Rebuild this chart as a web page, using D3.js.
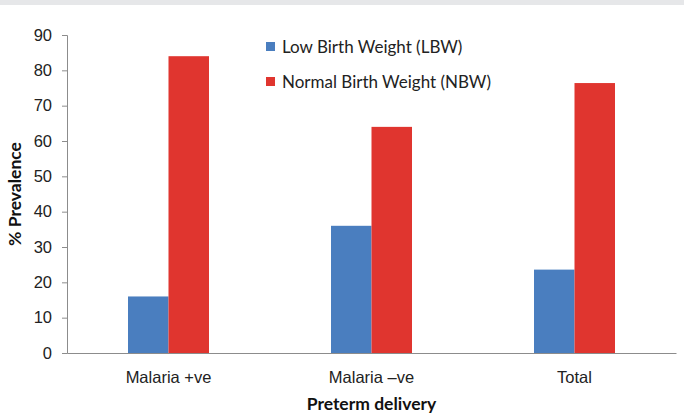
<!DOCTYPE html>
<html>
<head>
<meta charset="utf-8">
<script src="https://cdn.jsdelivr.net/npm/d3@7"></script>
<style>
  body { margin: 0; background: #fff; }
  svg { display: block; font-family: Lato, "Open Sans", sans-serif; }
</style>
</head>
<body>
<div id="chart"></div>
<script>
// data
const categories = ['Malaria +ve', 'Malaria \u2013ve', 'Total'];
const seriesNames = ['Low Birth Weight (LBW)', 'Normal Birth Weight (NBW)'];
const lbw = [16, 36, 23.6];
const nbw = [84, 64, 76.4];
const yTicks = [0, 10, 20, 30, 40, 50, 60, 70, 80, 90];
const colors = ['#4a7ebf', '#e0352f'];

const width = 684, height = 415;
const margin = { top: 35, right: 8, bottom: 62, left: 67 };

const svg = d3.select('#chart').append('svg')
    .attr('width', width)
    .attr('height', height);

// grey strip at the top of the figure
svg.append('rect')
    .attr('x', 0).attr('y', 0)
    .attr('width', width).attr('height', 5)
    .attr('fill', '#e6e7e9');

const x = d3.scaleBand()
    .domain(categories)
    .range([margin.left, width - margin.right]);

const x1 = d3.scaleBand()
    .domain(seriesNames)
    .range([0, 81]);

const y = d3.scaleLinear()
    .domain([0, 90])
    .range([height - margin.bottom, margin.top]);

const rows = categories.map((c, i) => ({ cat: c, vals: [lbw[i], nbw[i]] }));

const groups = svg.append('g').selectAll('g')
    .data(rows)
    .join('g')
    .attr('transform', d => 'translate(' + (x(d.cat) + x.bandwidth() / 2 - 40.5) + ',0)');

groups.selectAll('rect')
    .data(d => d.vals.map((v, i) => ({ key: seriesNames[i], v: v, i: i })))
    .join('rect')
    .attr('x', d => x1(d.key))
    .attr('y', d => y(d.v))
    .attr('width', x1.bandwidth())
    .attr('height', d => y(0) - y(d.v))
    .attr('fill', d => colors[d.i]);

// y axis
const yAxis = svg.append('g')
    .attr('transform', 'translate(' + margin.left + ',0)')
    .call(d3.axisLeft(y).tickValues(yTicks).tickSize(5).tickPadding(10));
yAxis.select('.domain').attr('stroke', '#8c8c8c');
yAxis.selectAll('.tick line').attr('stroke', '#8c8c8c');
yAxis.selectAll('.tick text')
    .attr('font-size', 16.5)
    .attr('fill', '#222');

// x axis
const xAxis = svg.append('g')
    .attr('transform', 'translate(0,' + y(0) + ')')
    .call(d3.axisBottom(x).tickSize(0).tickPadding(18));
xAxis.select('.domain').attr('stroke', '#8c8c8c');
xAxis.selectAll('.tick text')
    .attr('font-size', 16.5)
    .attr('fill', '#222');

// axis titles
svg.append('text')
    .attr('x', x(categories[1]) + x.bandwidth() / 2)
    .attr('y', 410)
    .attr('text-anchor', 'middle')
    .attr('font-size', 17.5)
    .attr('font-weight', 'bold')
    .attr('fill', '#111')
    .text('Preterm delivery');

svg.append('text')
    .attr('transform', 'translate(21,' + y(45) + ') rotate(-90)')
    .attr('text-anchor', 'middle')
    .attr('font-size', 17.5)
    .attr('font-weight', 'bold')
    .attr('fill', '#111')
    .text('% Prevalence');

// legend
const legend = svg.append('g').selectAll('g')
    .data(seriesNames)
    .join('g')
    .attr('transform', (d, i) => 'translate(266,' + (47 + i * 35) + ')');

legend.append('rect')
    .attr('x', 0).attr('y', -5)
    .attr('width', 9).attr('height', 9)
    .attr('fill', (d, i) => colors[i]);

legend.append('text')
    .attr('x', 16)
    .attr('y', 0)
    .attr('dy', '0.35em')
    .attr('font-size', 17)
    .attr('fill', '#222')
    .text(d => d);
</script>
</body>
</html>
